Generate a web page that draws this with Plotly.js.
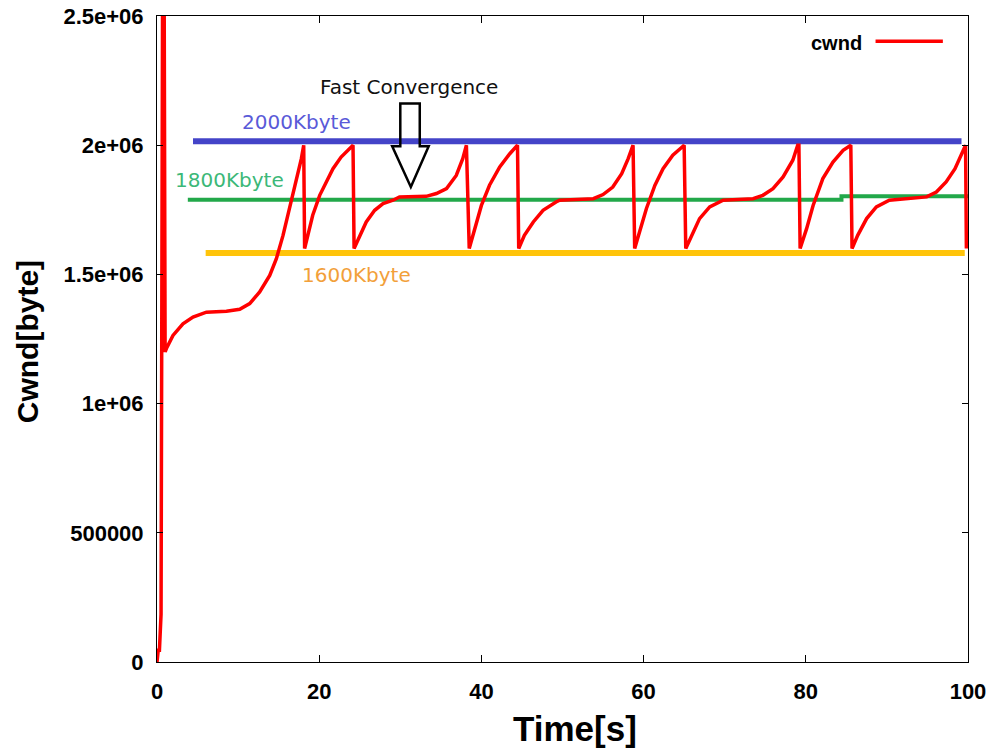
<!DOCTYPE html>
<html>
<head>
<meta charset="utf-8">
<script src="https://cdn.plot.ly/plotly-3.0.1.min.js"></script>
<style>html,body{margin:0;padding:0;background:#fff;}#chart{width:992px;height:749px;}</style>
</head>
<body>
<div id="chart"></div>
<script>
// cwnd trace (time in s, cwnd in bytes)
const timeS = [0, 0.15, 0.3, 0.5, 0.72, 0.85, 1.0, 1.16, 1.97, 3.2, 4.44, 6.09, 8.56, 10.2, 11.43, 12.66, 13.9, 14.72, 15.54, 16.15, 16.77, 17.39, 17.8, 18.09,
  18.2, 18.6, 19.2, 20.06, 20.9, 21.7, 22.7, 23.76, 24.17,
  24.3, 25.0, 25.8, 26.84, 27.87, 29.1, 29.9, 33.2, 34.45, 35.7, 36.9, 37.7, 38.15,
  38.5, 39.2, 40.0, 41.0, 42.26, 43.5, 44.3, 44.45,
  44.6, 45.3, 46.4, 47.6, 49.2, 49.65, 53.8, 55.0, 56.2, 57.3, 58.1, 58.7,
  58.9, 59.5, 60.35, 61.4, 62.4, 63.6, 64.86, 65.0,
  65.2, 65.9, 66.9, 68.15, 69.8, 73.5, 74.7, 75.95, 77.2, 78.4, 79.0, 79.15,
  79.3, 80.1, 80.9, 82.1, 83.35, 84.6, 85.4, 85.55,
  85.7, 86.4, 87.5, 88.7, 90.3, 94.9, 96.1, 97.3, 98.4, 99.2, 99.7, 99.8];
const cwnd = [0, 45000, 45000, 185000, 3000000, 3000000, 1200000, 1213000, 1264000, 1309000, 1335000, 1354000, 1357000, 1365000, 1387000, 1432000, 1496000, 1561000, 1651000, 1729000, 1806000, 1896000, 1948000, 2000000,
  1600000, 1651000, 1729000, 1806000, 1858000, 1909000, 1954000, 1987000, 2000000,
  1600000, 1651000, 1703000, 1748000, 1774000, 1787000, 1800000, 1802000, 1813000, 1832000, 1883000, 1948000, 2000000,
  1600000, 1677000, 1767000, 1845000, 1916000, 1967000, 1993000, 2000000,
  1600000, 1651000, 1703000, 1748000, 1780000, 1787000, 1793000, 1809000, 1838000, 1890000, 1948000, 2000000,
  1600000, 1664000, 1755000, 1845000, 1909000, 1961000, 1993000, 2000000,
  1600000, 1651000, 1716000, 1761000, 1787000, 1793000, 1806000, 1832000, 1877000, 1942000, 2000000, 2000000,
  1600000, 1677000, 1767000, 1871000, 1935000, 1980000, 2000000, 2000000,
  1600000, 1651000, 1716000, 1761000, 1787000, 1800000, 1819000, 1858000, 1909000, 1961000, 2000000, 1600000];

// reference levels
const line2000X = [4.44, 99.2];
const line2000Y = [2015000, 2015000];
const line1800X = [3.8, 84.4, 84.4, 100];
const line1800Y = [1789000, 1789000, 1802000, 1802000];
const line1600X = [6.0, 99.6];
const line1600Y = [1583000, 1583000];

const yTickVals = [0, 500000, 1000000, 1500000, 2000000, 2500000];
const yTickText = ['0', '500000', '1e+06', '1.5e+06', '2e+06', '2.5e+06'];
const xTickVals = [0, 20, 40, 60, 80, 100];
const xTickText = ['0', '20', '40', '60', '80', '100'];

const traces = [
  {x: line2000X, y: line2000Y, mode: 'lines', line: {color: '#4444c8', width: 6}, showlegend: false, hoverinfo: 'skip'},
  {x: line1800X, y: line1800Y, mode: 'lines', line: {color: '#22a84a', width: 4}, showlegend: false, hoverinfo: 'skip'},
  {x: line1600X, y: line1600Y, mode: 'lines', line: {color: '#ffc40a', width: 6}, showlegend: false, hoverinfo: 'skip'},
  {x: timeS, y: cwnd, mode: 'lines', name: 'cwnd', line: {color: '#ff0000', width: 3.5}, showlegend: false}
];

const boldFam = 'Liberation Sans, Arial, sans-serif';
const tickFont = {family: boldFam, size: 22, color: '#000', weight: 'bold'};
const labFont = {family: 'DejaVu Sans, sans-serif', size: 20};

const layout = {
  width: 992, height: 749,
  margin: {l: 157, r: 24, t: 16, b: 87},
  paper_bgcolor: '#fff', plot_bgcolor: '#fff',
  showlegend: false,
  xaxis: {
    range: [0, 100], tickvals: xTickVals, ticktext: xTickText,
    ticks: 'inside', ticklen: 7, tickcolor: '#000', tickwidth: 1,
    showline: true, linecolor: '#000', linewidth: 1, mirror: 'ticks',
    showgrid: false, zeroline: false, tickfont: tickFont, ticklabelstandoff: 10
  },
  yaxis: {
    range: [0, 2500000], tickvals: yTickVals, ticktext: yTickText,
    ticks: 'inside', ticklen: 6, tickcolor: '#000', tickwidth: 1,
    showline: true, linecolor: '#000', linewidth: 1, mirror: 'ticks',
    showgrid: false, zeroline: false, tickfont: tickFont, ticklabelstandoff: 8
  },
  annotations: [
    {x: 0.515, y: -0.103, xref: 'paper', yref: 'paper', xanchor: 'center', yanchor: 'middle', text: 'Time[s]', showarrow: false,
     font: {family: boldFam, size: 35, color: '#000', weight: 'bold'}},
    {x: -0.1595, y: 0.496, xref: 'paper', yref: 'paper', xanchor: 'center', yanchor: 'middle', text: 'Cwnd[byte]', textangle: -90, showarrow: false,
     font: {family: boldFam, size: 30, color: '#000', weight: 'bold'}},
    {x: 31.05, y: 2224000, xref: 'x', yref: 'y', xanchor: 'center', yanchor: 'middle', text: 'Fast Convergence', showarrow: false, font: Object.assign({color: '#111'}, labFont)},
    {x: 17.2, y: 2090000, xref: 'x', yref: 'y', xanchor: 'center', yanchor: 'middle', text: '2000Kbyte', showarrow: false, font: Object.assign({color: '#5a5ad8'}, labFont)},
    {x: 9.0, y: 1864000, xref: 'x', yref: 'y', xanchor: 'center', yanchor: 'middle', text: '1800Kbyte', showarrow: false, font: Object.assign({color: '#3cb878'}, labFont)},
    {x: 24.6, y: 1496000, xref: 'x', yref: 'y', xanchor: 'center', yanchor: 'middle', text: '1600Kbyte', showarrow: false, font: Object.assign({color: '#f2a03a'}, labFont)},
    {x: 0.838, y: 0.958, xref: 'paper', yref: 'paper', xanchor: 'center', yanchor: 'middle', text: 'cwnd', showarrow: false,
     font: {family: boldFam, size: 20, color: '#000', weight: 'bold'}}
  ],
  shapes: [
    {type: 'path', xref: 'x', yref: 'y',
     path: 'M 30.0,2161000 L 32.4,2161000 L 32.4,1996000 L 33.5,1996000 L 31.3,1838000 L 29.0,1996000 L 30.0,1996000 Z',
     line: {color: '#000', width: 2.5}, fillcolor: 'rgba(0,0,0,0)'},
    {type: 'line', xref: 'paper', yref: 'paper', x0: 0.886, x1: 0.969, y0: 0.961, y1: 0.961,
     line: {color: '#ff0000', width: 3.5}}
  ]
};

Plotly.newPlot('chart', traces, layout, {staticPlot: true, displayModeBar: false});
</script>
</body>
</html>
